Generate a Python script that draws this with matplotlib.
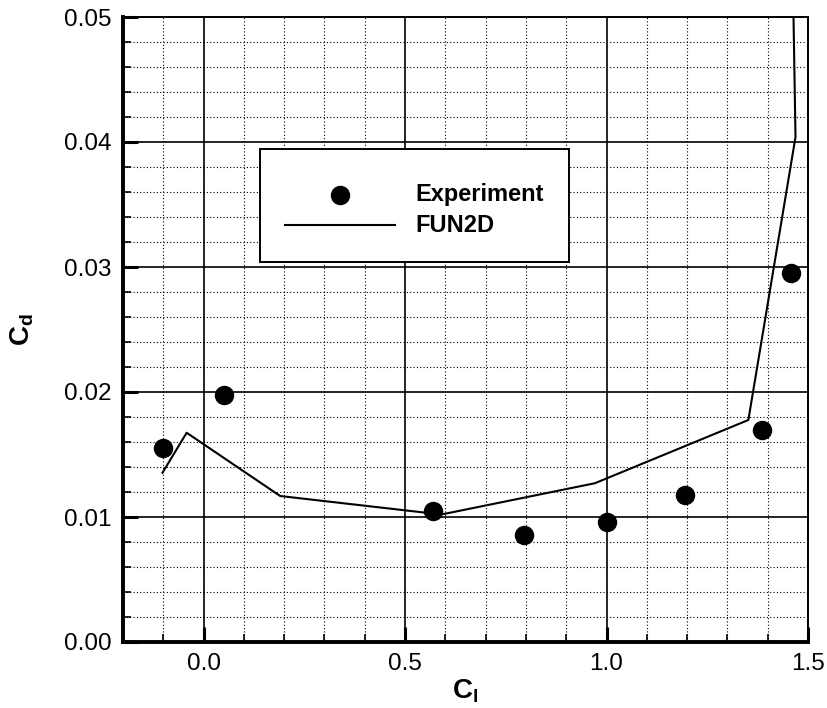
import matplotlib
matplotlib.use("Agg")
import matplotlib.pyplot as plt
from matplotlib.ticker import MultipleLocator, FormatStrFormatter
from matplotlib.patches import Rectangle

plt.rcParams['font.family'] = ['Liberation Sans', 'DejaVu Sans']
plt.rcParams['mathtext.fontset'] = 'custom'
plt.rcParams['mathtext.rm'] = 'Liberation Sans'
plt.rcParams['mathtext.bf'] = 'Liberation Sans:bold'
plt.rcParams['mathtext.it'] = 'Liberation Sans:italic'

# Experiment data (Cl, Cd)
exp_cl = [-0.10, 0.05, 0.57, 0.795, 1.00, 1.195, 1.387, 1.457]
exp_cd = [0.0155, 0.0198, 0.0105, 0.0086, 0.0096, 0.0118, 0.0170, 0.0295]

# FUN2D computed polar (Cl, Cd)
fun_cl = [-0.102, -0.042, 0.19, 0.59, 0.971, 1.352, 1.469, 1.463]
fun_cd = [0.01354, 0.01674, 0.01168, 0.01020, 0.0127, 0.01776, 0.0404, 0.0520]

xmin, xmax = -0.2, 1.5
ymin, ymax = 0.0, 0.05

fig = plt.figure(figsize=(8.28, 7.08), dpi=100)
ax = fig.add_axes([123/828, 66/708, 685/828, 625/708])

ax.set_xlim(xmin, xmax)
ax.set_ylim(ymin, ymax)

ax.xaxis.set_major_locator(MultipleLocator(0.5))
ax.xaxis.set_minor_locator(MultipleLocator(0.1))
ax.yaxis.set_major_locator(MultipleLocator(0.01))
ax.yaxis.set_minor_locator(MultipleLocator(0.002))
ax.xaxis.set_major_formatter(FormatStrFormatter('%.1f'))
ax.yaxis.set_major_formatter(FormatStrFormatter('%.2f'))

ax.grid(which='major', color='black', linestyle='-', linewidth=1.2)
ax.grid(which='minor', color='black', linestyle=(0, (1, 2)), linewidth=0.8)
ax.set_axisbelow(True)

ax.tick_params(which='major', direction='in', length=11, width=2.2,
               labelsize=17.5, pad=8, top=False, right=False)
ax.tick_params(which='minor', direction='in', length=6, width=1.2,
               top=False, right=False)

for s in ['left', 'bottom']:
    ax.spines[s].set_linewidth(2.8)
for s in ['top', 'right']:
    ax.spines[s].set_linewidth(1.4)

ax.plot(fun_cl, fun_cd, color='black', linewidth=1.5, zorder=3)
ax.plot(exp_cl, exp_cd, linestyle='none', marker='o', markersize=13,
        color='black', zorder=4)

ax.set_xlabel(r'$\mathbf{C_l}$', fontsize=20, labelpad=2)
ax.set_ylabel(r'$\mathbf{C_d}$', fontsize=20, labelpad=20)

# legend box
lx0, lx1 = 0.2, 0.651
ly0, ly1 = 0.608, 0.789
ax.add_patch(Rectangle((lx0, ly0), lx1 - lx0, ly1 - ly0, transform=ax.transAxes,
                       facecolor='white', edgecolor='black', linewidth=1.4, zorder=5))
ax.plot([(340 - 123) / 685], [(642 - 195) / 625], transform=ax.transAxes,
        marker='o', markersize=13, color='black', linestyle='none', zorder=6)
ax.plot([(285 - 123) / 685, (395 - 123) / 685], [(642 - 225) / 625] * 2,
        transform=ax.transAxes, color='black', linewidth=1.5, zorder=6)
ax.text((415 - 123) / 685, (642 - 195) / 625, 'Experiment', transform=ax.transAxes,
        fontsize=17, fontweight='bold', va='center', ha='left', zorder=6)
ax.text((415 - 123) / 685, (642 - 225) / 625, 'FUN2D', transform=ax.transAxes,
        fontsize=17, fontweight='bold', va='center', ha='left', zorder=6)

fig.savefig('out.png', dpi=100)
